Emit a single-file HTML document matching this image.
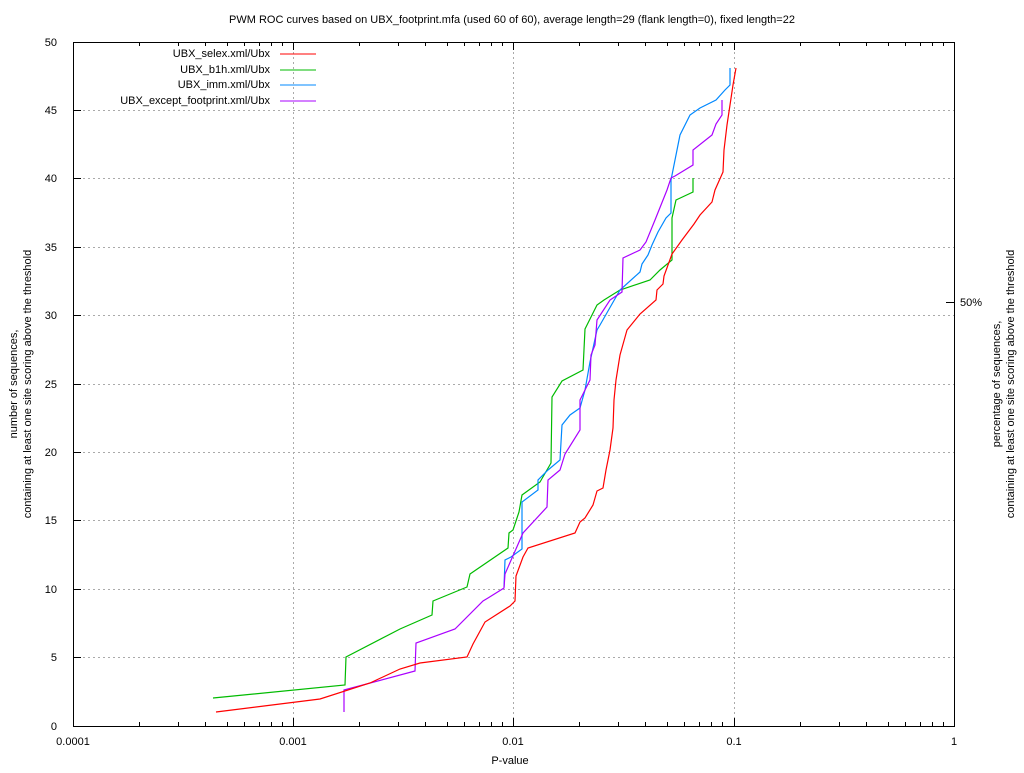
<!DOCTYPE html>
<html><head><meta charset="utf-8"><style>
body{margin:0;background:#fff}
text{font-family:"Liberation Sans",sans-serif;font-size:11px;fill:#000}
</style></head><body>
<svg width="1024" height="768" xmlns="http://www.w3.org/2000/svg">
<text x="512" y="23" text-anchor="middle">PWM ROC curves based on UBX_footprint.mfa (used 60 of 60), average length=29 (flank length=0), fixed length=22</text>
<g stroke="#aaa" stroke-dasharray="2,3" stroke-width="1">
<line x1="73" x2="954" y1="657.5" y2="657.5"/><line x1="73" x2="954" y1="589.5" y2="589.5"/>
<line x1="73" x2="954" y1="520.5" y2="520.5"/><line x1="73" x2="954" y1="452.5" y2="452.5"/>
<line x1="73" x2="954" y1="384.5" y2="384.5"/><line x1="73" x2="954" y1="315.5" y2="315.5"/>
<line x1="73" x2="954" y1="247.5" y2="247.5"/><line x1="73" x2="954" y1="178.5" y2="178.5"/>
<line x1="73" x2="954" y1="110.5" y2="110.5"/>
<line x1="293.5" x2="293.5" y1="42" y2="726"/><line x1="513.5" x2="513.5" y1="42" y2="726"/><line x1="734.5" x2="734.5" y1="42" y2="726"/>
</g>
<rect x="73.5" y="42.5" width="881" height="684" fill="none" stroke="#000"/>
<g stroke="#000" stroke-width="1" id="ticks">
<path d="M73,657.5h8M73,589.5h8M73,520.5h8M73,452.5h8M73,384.5h8M73,315.5h8M73,247.5h8M73,178.5h8M73,110.5h8
M293.5,726v-8M513.5,726v-8M734.5,726v-8M293.5,42v8M513.5,42v8M734.5,42v8 M954,302.5h-8"/>
<path d="M139.5,726v-4M178.5,726v-4M205.5,726v-4M227.5,726v-4M244.5,726v-4M259.5,726v-4M271.5,726v-4M282.5,726v-4
M359.5,726v-4M398.5,726v-4M425.5,726v-4M447.5,726v-4M464.5,726v-4M479.5,726v-4M491.5,726v-4M502.5,726v-4
M579.5,726v-4M618.5,726v-4M645.5,726v-4M667.5,726v-4M684.5,726v-4M699.5,726v-4M711.5,726v-4M722.5,726v-4
M800.5,726v-4M839.5,726v-4M866.5,726v-4M888.5,726v-4M905.5,726v-4M920.5,726v-4M932.5,726v-4M943.5,726v-4
M139.5,42v4M178.5,42v4M205.5,42v4M227.5,42v4M244.5,42v4M259.5,42v4M271.5,42v4M282.5,42v4
M359.5,42v4M398.5,42v4M425.5,42v4M447.5,42v4M464.5,42v4M479.5,42v4M491.5,42v4M502.5,42v4
M579.5,42v4M618.5,42v4M645.5,42v4M667.5,42v4M684.5,42v4M699.5,42v4M711.5,42v4M722.5,42v4
M800.5,42v4M839.5,42v4M866.5,42v4M888.5,42v4M905.5,42v4M920.5,42v4M932.5,42v4M943.5,42v4"/>
</g>
<g font-size="11">
<text x="57" y="730" text-anchor="end">0</text><text x="57" y="661" text-anchor="end">5</text>
<text x="57" y="593" text-anchor="end">10</text><text x="57" y="524" text-anchor="end">15</text>
<text x="57" y="456" text-anchor="end">20</text><text x="57" y="388" text-anchor="end">25</text>
<text x="57" y="319" text-anchor="end">30</text><text x="57" y="251" text-anchor="end">35</text>
<text x="57" y="182" text-anchor="end">40</text><text x="57" y="114" text-anchor="end">45</text>
<text x="57" y="46" text-anchor="end">50</text>
<text x="73" y="745" text-anchor="middle">0.0001</text><text x="293" y="745" text-anchor="middle">0.001</text>
<text x="513" y="745" text-anchor="middle">0.01</text><text x="734" y="745" text-anchor="middle">0.1</text>
<text x="954" y="745" text-anchor="middle">1</text>
<text x="510" y="764" text-anchor="middle">P-value</text>
<text x="960" y="306">50%</text>
</g>
<text transform="translate(17,384) rotate(-90)" text-anchor="middle">number of sequences,</text>
<text transform="translate(31,384) rotate(-90)" text-anchor="middle">containing at least one site scoring above the threshold</text>
<text transform="translate(1000,384) rotate(-90)" text-anchor="middle">percentage of sequences,</text>
<text transform="translate(1014,384) rotate(-90)" text-anchor="middle">containing at least one site scoring above the threshold</text>
<g text-anchor="end">
<text x="270" y="57">UBX_selex.xml/Ubx</text>
<text x="270" y="73">UBX_b1h.xml/Ubx</text>
<text x="270" y="88">UBX_imm.xml/Ubx</text>
<text x="270" y="104">UBX_except_footprint.xml/Ubx</text>
</g>
<line x1="280" x2="316" y1="54" y2="54" stroke="#f00"/>
<line x1="280" x2="316" y1="70" y2="70" stroke="#0b0"/>
<line x1="280" x2="316" y1="85" y2="85" stroke="#08f"/>
<line x1="280" x2="316" y1="101" y2="101" stroke="#a0f"/>
<g fill="none" stroke-width="1.2">
<polyline stroke="#0b0" points="213,698 345,685 346,657 400,629 432,615 433,601 467,587 470,574 508,548 509,533 513,530 519,512 522,495 540,482 551,463 552,397 562,381 583,370 585,329 597,305 604,300 620,290 650,280 660,270 672,260 672,218 676,200 693,192 693,178"/>
<polyline stroke="#08f" points="504,587 505,560 511,557 522,549 522,502 538,490 538,480 548,470 560,460 562,425 570,415 580,408 585,390 590,362 597,330 600,325 620,290 640,272 642,264 648,255 652,245 658,232 666,218 671,213 671,180 675,160 680,135 690,115 700,108 716,100 725,90 730,85 730,68"/>
<polyline stroke="#a0f" points="344,690 344,712 344,690 415,671 416,643 455,629 483,601 488,598 504,588 505,574 523,533 547,507 548,480 560,470 565,454 580,430 580,400 590,380 591,355 595,345 597,320 610,300 622,292 623,258 640,250 646,242 655,220 667,190 671,178 675,176 693,165 693,150 712,135 716,124 722,115 722,100"/>
<polyline stroke="#f00" points="216,712 320,699 370,683 400,669 420,663 467,657 473,644 485,622 510,606 515,601 516,576 523,557 528,548 575,533 580,522 585,518 593,505 597,491 603,488 606,470 610,450 613,428 614,400 616,380 620,355 627,330 640,314 656,300 657,290 663,284 664,276 672,254 682,240 694,224 700,215 712,202 715,190 723,172 724,150 727,125 730,105 733,85 736,68"/>
</g>
</svg>
</body></html>
